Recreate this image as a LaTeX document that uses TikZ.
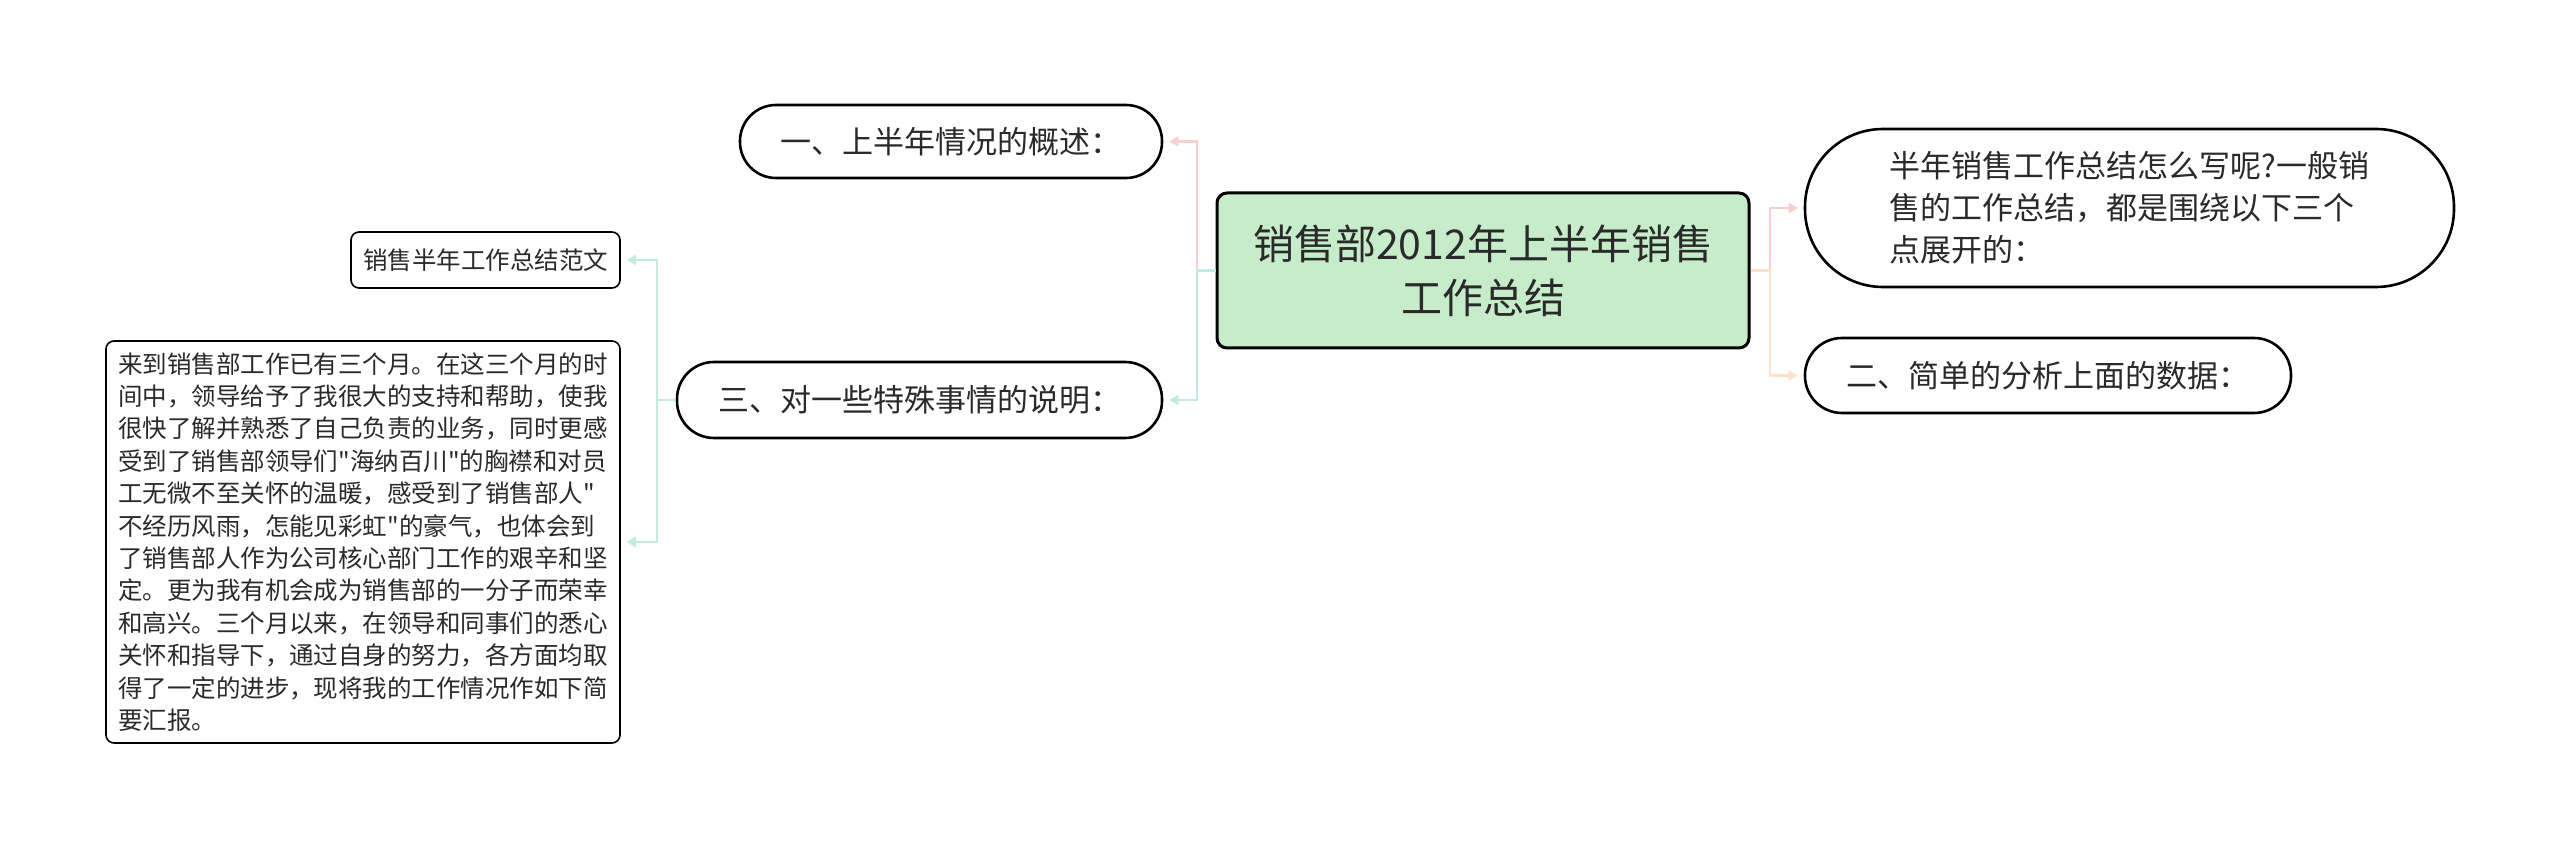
\documentclass[tikz,border=0pt]{standalone}
\usepackage{fontspec}
\setmainfont{Noto Sans CJK SC}
\newfontfamily\cjkfont{Noto Sans CJK SC}
\usetikzlibrary{arrows.meta}
\definecolor{rootfill}{HTML}{C6ECCA}
\definecolor{epink}{HTML}{F7CFCF}
\definecolor{eteal}{HTML}{C3EAE3}
\definecolor{eorange}{HTML}{FCE3CD}
\definecolor{txt}{HTML}{2A2A2A}
\begin{document}
\begin{tikzpicture}[x=0.5pt,y=-0.5pt,
  rootbox/.style={draw=black, line width=1.5pt, fill=rootfill, rounded corners=5pt, inner sep=0pt, align=center, text=txt, font=\cjkfont\fontsize{20.5pt}{27pt}\selectfont},
  pill/.style={draw=black, line width=1.3pt, fill=white, inner sep=0pt, align=left, text=txt, font=\cjkfont\fontsize{15.5pt}{21pt}\selectfont},
  leafbox/.style={draw=black, line width=0.8pt, fill=white, rounded corners=4pt, inner sep=0pt, text=txt, align=left, font=\cjkfont\fontsize{12.25pt}{16.2pt}\selectfont},
  conn/.style={line width=1.3pt, -{Triangle[length=4.5pt,width=5pt]}, shorten >=3pt},
]
\fill[white] (0,0) rectangle (2560,849);
\useasboundingbox (0,0) rectangle (2560,849);

\node[rootbox, minimum width=266pt, minimum height=77.5pt] (root) at (1483,270.5) {销售部2012年上半年销售\\工作总结};

\node[pill, rounded corners=18pt, minimum width=211pt, minimum height=36.5pt] (n1) at (951,141.5) {一、上半年情况的概述：};
\node[pill, rounded corners=18.5pt, minimum width=242.5pt, minimum height=38pt] (n3) at (919.5,400) {三、对一些特殊事情的说明：};
\node[pill, rounded corners=39pt, minimum width=324.5pt, minimum height=79pt] (r1) at (2129.5,208) {半年销售工作总结怎么写呢?一般销\\售的工作总结，都是围绕以下三个\\点展开的：};
\node[pill, rounded corners=18.5pt, minimum width=243pt, minimum height=37.5pt] (r2) at (2048,375.5) {二、简单的分析上面的数据：};

\node[leafbox, minimum width=134.5pt, minimum height=28pt] (l1) at (485.5,260) {销售半年工作总结范文};
\node[leafbox, minimum width=257pt, minimum height=201pt] (l2) at (363,542) {来到销售部工作已有三个月。在这三个月的时\\间中，领导给予了我很大的支持和帮助，使我\\很快了解并熟悉了自己负责的业务，同时更感\\受到了销售部领导们"海纳百川"的胸襟和对员\\工无微不至关怀的温暖，感受到了销售部人"\\不经历风雨，怎能见彩虹"的豪气，也体会到\\了销售部人作为公司核心部门工作的艰辛和坚\\定。更为我有机会成为销售部的一分子而荣幸\\和高兴。三个月以来，在领导和同事们的悉心\\关怀和指导下，通过自身的努力，各方面均取\\得了一定的进步，现将我的工作情况作如下简\\要汇报。};

\coordinate (jl) at (1197,270.5);
\coordinate (jr) at (1770,270.5);
\coordinate (j3) at (657,400);

\draw[conn, draw=epink] (root.west) -- (jl) |- (n1.east);
\draw[conn, draw=eteal] (root.west) -- (jl) |- (n3.east);
\draw[conn, draw=epink] (root.east) -- (jr) |- (r1.west);
\draw[conn, draw=eorange] (root.east) -- (jr) |- (r2.west);
\draw[conn, draw=eteal] (n3.west) -- (j3) |- (l1.east);
\draw[conn, draw=eteal] (n3.west) -- (j3) |- (l2.east);
\end{tikzpicture}
\end{document}
